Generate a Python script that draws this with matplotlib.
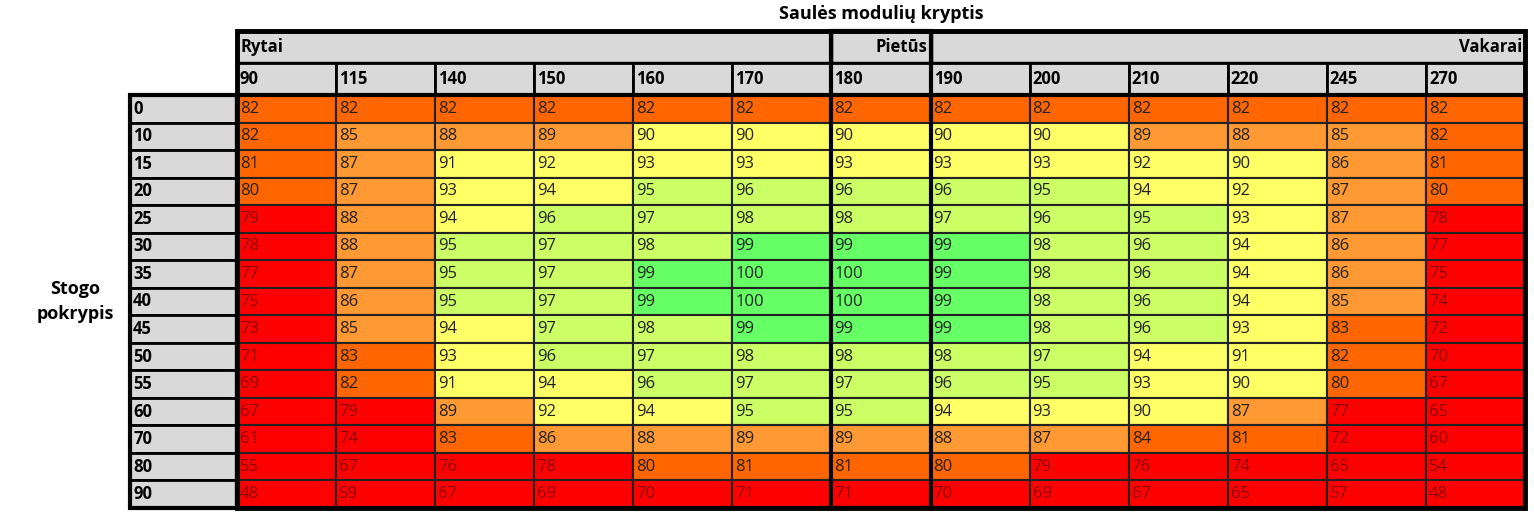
import matplotlib
matplotlib.use("Agg")
import matplotlib.pyplot as plt
from matplotlib.patches import Rectangle

title = "Saulės modulių kryptis"
ylabel = "Stogo\npokrypis"
directions = [90, 115, 140, 150, 160, 170, 180, 190, 200, 210, 220, 245, 270]
tilts = [0, 10, 15, 20, 25, 30, 35, 40, 45, 50, 55, 60, 70, 80, 90]
groups = [("Rytai", 0, 6, "left"), ("Pietūs", 6, 7, "right"), ("Vakarai", 7, 13, "right")]
values = [
    [82, 82, 82, 82, 82, 82, 82, 82, 82, 82, 82, 82, 82],
    [82, 85, 88, 89, 90, 90, 90, 90, 90, 89, 88, 85, 82],
    [81, 87, 91, 92, 93, 93, 93, 93, 93, 92, 90, 86, 81],
    [80, 87, 93, 94, 95, 96, 96, 96, 95, 94, 92, 87, 80],
    [79, 88, 94, 96, 97, 98, 98, 97, 96, 95, 93, 87, 78],
    [78, 88, 95, 97, 98, 99, 99, 99, 98, 96, 94, 86, 77],
    [77, 87, 95, 97, 99, 100, 100, 99, 98, 96, 94, 86, 75],
    [75, 86, 95, 97, 99, 100, 100, 99, 98, 96, 94, 85, 74],
    [73, 85, 94, 97, 98, 99, 99, 99, 98, 96, 93, 83, 72],
    [71, 83, 93, 96, 97, 98, 98, 98, 97, 94, 91, 82, 70],
    [69, 82, 91, 94, 96, 97, 97, 96, 95, 93, 90, 80, 67],
    [67, 79, 89, 92, 94, 95, 95, 94, 93, 90, 87, 77, 65],
    [61, 74, 83, 86, 88, 89, 89, 88, 87, 84, 81, 72, 60],
    [55, 67, 76, 78, 80, 81, 81, 80, 79, 76, 74, 65, 54],
    [48, 59, 67, 69, 70, 71, 71, 70, 69, 67, 65, 57, 48],
]

def color(v):
    if v >= 99: return "#66ff66"
    if v >= 95: return "#ccff66"
    if v >= 90: return "#ffff66"
    if v >= 85: return "#ff9933"
    if v >= 80: return "#ff6600"
    return "#ff0000"

W, H = 1534, 520
fig = plt.figure(figsize=(W/100, H/100), dpi=100)
ax = fig.add_axes([0, 0, 1, 1])
ax.set_xlim(0, W); ax.set_ylim(H, 0); ax.axis("off")

x0, x1 = 237, 1525
cw = (x1 - x0) / len(directions)
lx0 = 130
y_g, y_h, y_d = 31, 63, 95
rh = (508 - y_d) / len(tilts)
gray = "#d9d9d9"
fs = 12

ax.text((x0 + x1) / 2, 14, title, ha="center", va="center", fontsize=13, fontweight="bold", family="Open Sans")
ax.text(75, y_d + rh * 7.5, ylabel, ha="center", va="center", fontsize=13, fontweight="bold",
        family="Open Sans", linespacing=1.5)

for name, a, b, al in groups:
    xa, xb = x0 + a * cw, x0 + b * cw
    ax.add_patch(Rectangle((xa, y_g), xb - xa, y_h - y_g, fc=gray, ec="black", lw=2.5))
    tx = xa + 3 if al == "left" else xb - 3
    ax.text(tx, (y_g + y_h) / 2, name, ha=al, va="center", fontsize=fs, fontweight="bold", family="Open Sans")

for j, d in enumerate(directions):
    xa = x0 + j * cw
    ax.add_patch(Rectangle((xa, y_h), cw, y_d - y_h, fc=gray, ec="black", lw=2))
    ax.text(xa + 3, (y_h + y_d) / 2, str(d), ha="left", va="center", fontsize=fs, fontweight="bold", family="Open Sans")

for i, t in enumerate(tilts):
    ya = y_d + i * rh
    ax.add_patch(Rectangle((lx0, ya), x0 - lx0, rh, fc=gray, ec="black", lw=2))
    ax.text(lx0 + 3, ya + rh / 2, str(t), ha="left", va="center", fontsize=fs, fontweight="bold", family="Open Sans")
    for j, v in enumerate(values[i]):
        xa = x0 + j * cw
        ax.add_patch(Rectangle((xa, ya), cw, rh, fc=color(v), ec="#222222", lw=1.5))
        tc = "#8b0000" if v < 80 else "#222222"
        ax.text(xa + 3, ya + rh / 2, str(v), ha="left", va="center", fontsize=fs, color=tc, family="Open Sans")

ax.add_patch(Rectangle((x0, y_d), x1 - x0, 508 - y_d, fc="none", ec="black", lw=3))
ax.add_patch(Rectangle((x0 + 6 * cw, y_g), cw, 508 - y_g, fc="none", ec="black", lw=3))
ax.add_patch(Rectangle((x0, y_g), x1 - x0, 508 - y_g, fc="none", ec="black", lw=3.5))
ax.add_patch(Rectangle((lx0, y_d), x0 - lx0, 508 - y_d, fc="none", ec="black", lw=3))

fig.savefig("out.png", dpi=100)
